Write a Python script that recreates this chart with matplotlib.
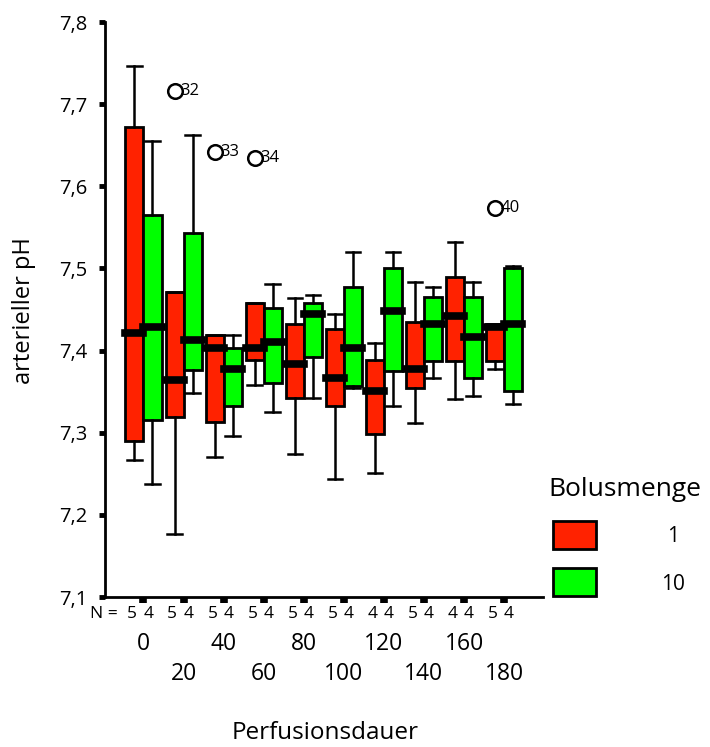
import numpy as np
import matplotlib.pyplot as plt
from matplotlib.patches import Rectangle

plt.rcParams['font.family'] = ['Open Sans', 'DejaVu Sans']

# Perfusionsdauer (Gruppen)
zeiten = ["0", "20", "40", "60", "80", "100", "120", "140", "160", "180"]
n_1 = [5, 5, 5, 5, 5, 5, 4, 5, 4, 5]
n_10 = [4, 4, 4, 4, 4, 4, 4, 4, 4, 4]

# Bolusmenge 1 (rot)
lo_1 = [7.267, 7.177, 7.270, 7.358, 7.274, 7.244, 7.251, 7.312, 7.341, 7.377]
q1_1 = [7.290, 7.319, 7.313, 7.389, 7.342, 7.332, 7.299, 7.354, 7.387, 7.387]
med_1 = [7.422, 7.364, 7.403, 7.403, 7.384, 7.367, 7.351, 7.377, 7.442, 7.429]
q3_1 = [7.672, 7.471, 7.419, 7.458, 7.432, 7.426, 7.388, 7.435, 7.490, 7.432]
hi_1 = [7.746, 7.471, 7.419, 7.458, 7.464, 7.445, 7.409, 7.484, 7.532, 7.432]

# Bolusmenge 10 (gruen)
lo_10 = [7.238, 7.348, 7.296, 7.325, 7.342, 7.354, 7.332, 7.367, 7.345, 7.335]
q1_10 = [7.316, 7.376, 7.332, 7.360, 7.392, 7.357, 7.375, 7.387, 7.367, 7.351]
med_10 = [7.429, 7.413, 7.377, 7.410, 7.445, 7.403, 7.448, 7.432, 7.416, 7.432]
q3_10 = [7.565, 7.543, 7.403, 7.452, 7.458, 7.477, 7.501, 7.465, 7.465, 7.501]
hi_10 = [7.655, 7.662, 7.419, 7.481, 7.468, 7.520, 7.520, 7.477, 7.484, 7.503]

# Ausreisser (nur Bolusmenge 1): Gruppe, Wert, Fallnummer
aus_gruppe = [1, 2, 3, 9]
aus_wert = [7.716, 7.642, 7.635, 7.573]
aus_fall = ["32", "33", "34", "40"]

rot = "#FF2200"
gruen = "#00FF00"
breite = 0.45

def stats(lo, q1, med, q3, hi, fl):
    return [dict(whislo=lo[i], q1=q1[i], med=med[i], q3=q3[i], whishi=hi[i],
                 fliers=fl[i]) for i in range(len(lo))]

fl_1 = [[] for _ in zeiten]
for g, w in zip(aus_gruppe, aus_wert):
    fl_1[g].append(w)
fl_10 = [[] for _ in zeiten]

fig = plt.figure(figsize=(7.10, 7.47), dpi=100)
ax = fig.add_axes([105/710, 1-597/747, (543-105)/710, (597-22)/747])

x = np.arange(len(zeiten))
for pos, st, farbe in [(x - breite/2, stats(lo_1, q1_1, med_1, q3_1, hi_1, fl_1), rot),
                       (x + breite/2, stats(lo_10, q1_10, med_10, q3_10, hi_10, fl_10), gruen)]:
    ax.bxp(st, positions=pos, widths=breite, capwidths=0.36, patch_artist=True,
           manage_ticks=False,
           boxprops=dict(facecolor=farbe, edgecolor="black", linewidth=2),
           whiskerprops=dict(color="black", linewidth=1.8),
           capprops=dict(color="black", linewidth=1.8),
           medianprops=dict(color="black", linewidth=5.5, solid_capstyle="projecting", zorder=5),
           flierprops=dict(marker="o", markerfacecolor="none", markeredgecolor="black",
                           markersize=10.5, markeredgewidth=1.8))

for g, w, f in zip(aus_gruppe, aus_wert, aus_fall):
    ax.annotate(f, (g - breite/2, w), xytext=(4, 0), textcoords="offset points",
                va="center", ha="left", fontsize=12)

ax.set_xlim(-0.96, 9.97)
ax.set_ylim(7.1, 7.8)
yt = np.arange(7.1, 7.81, 0.1)
ax.set_yticks(yt)
ax.set_yticklabels([("%.1f" % v).replace(".", ",") for v in yt], fontsize=14.5)
ax.set_xticks(x)
ax.set_xticklabels([])
ax.tick_params(axis="y", direction="out", length=4.5, width=3.5, pad=8)
ax.tick_params(axis="x", direction="out", length=4.5, width=5.5)
for s in ["top", "right"]:
    ax.spines[s].set_visible(False)
for s in ["left", "bottom"]:
    ax.spines[s].set_linewidth(2)

# N-Zeile und Gruppenbeschriftung
tr = ("data", "axes fraction")
ax.annotate("N =", (-0.3, 0), xycoords=tr, xytext=(-10, -12.2), textcoords="offset points",
            ha="right", va="center", fontsize=12.5)
for i in x:
    ax.annotate(str(n_1[i]), (i - 0.28, 0), xycoords=tr, xytext=(0, -12.2),
                textcoords="offset points", ha="center", va="center", fontsize=12.5)
    ax.annotate(str(n_10[i]), (i + 0.12, 0), xycoords=tr, xytext=(0, -12.2),
                textcoords="offset points", ha="center", va="center", fontsize=12.5)
    off = 33.5 if i % 2 == 0 else 55.4
    ax.annotate(zeiten[i], (i, 0), xycoords=tr, xytext=(0, -off),
                textcoords="offset points", ha="center", va="center", fontsize=16.5)

fig.text(325/710, 1-733/747, "Perfusionsdauer", ha="center", va="center", fontsize=17.5)
fig.text(24/710, 1-311/747, "arterieller pH", ha="center", va="center",
         rotation=90, fontsize=17)

# Legende
fig.text(548/710, 1-489/747, "Bolusmenge", ha="left", va="center", fontsize=19)
for farbe, lab, ytop in [(rot, "1", 521), (gruen, "10", 568)]:
    fig.add_artist(Rectangle((553/710, 1-(ytop+28)/747), 43/710, 28/747,
                             facecolor=farbe, edgecolor="black", linewidth=2,
                             transform=fig.transFigure))
    fig.text(673/710, 1-(ytop+16)/747, lab, ha="center", va="center", fontsize=15)

fig.savefig("out.png", dpi=100)
